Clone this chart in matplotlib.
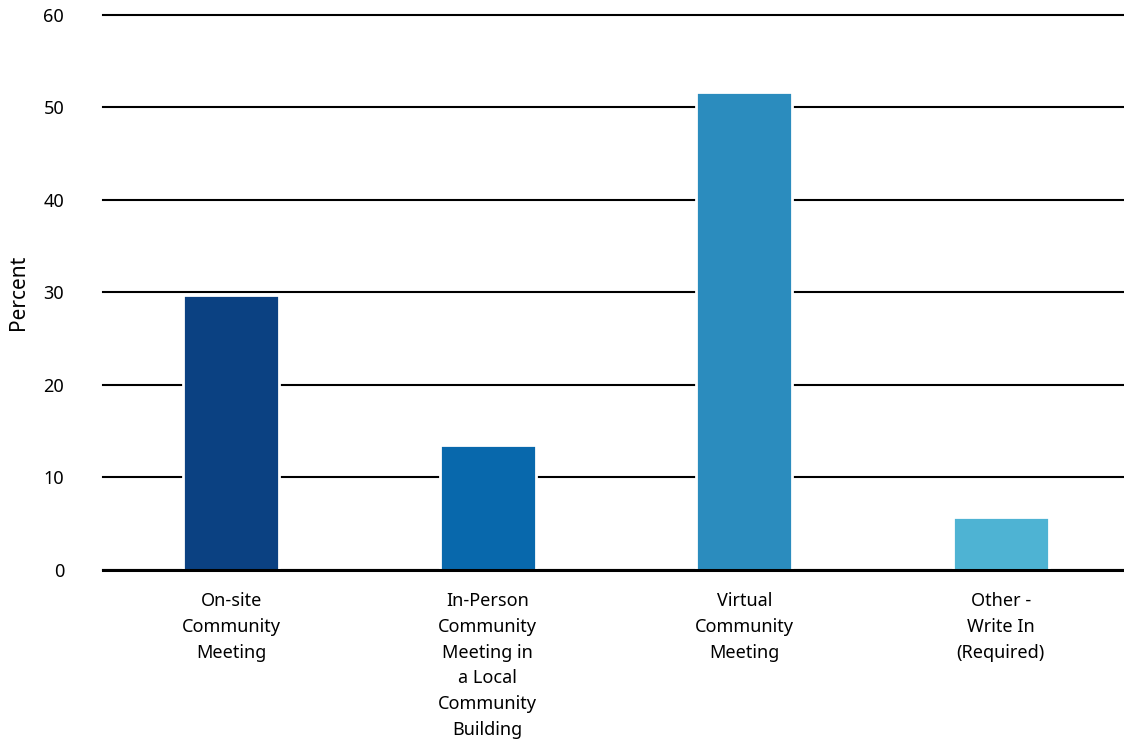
import numpy as np
import matplotlib.pyplot as plt

# Dados
categorias = ['On-site\nCommunity\nMeeting',
              'In-Person\nCommunity\nMeeting in\na Local\nCommunity\nBuilding',
              'Virtual\nCommunity\nMeeting',
              'Other -\nWrite In\n(Required)']
percentuais = [29.7, 13.5, 51.7, 5.7]
cores = ['#0b4182', '#0868ac', '#2b8cbe', '#4eb3d3']

plt.rcParams['font.family'] = ['Noto Sans', 'DejaVu Sans']

fig = plt.figure(figsize=(11.24, 7.47), dpi=100)
ax = fig.add_axes([0.0916, 0.237, 0.9084, 0.743])

x = np.arange(len(categorias))
ax.bar(x, percentuais, width=0.375, color=cores, edgecolor='white', linewidth=2, zorder=3)

ax.set_ylim(0, 60)
ax.set_xlim(-0.5, 3.48)
ax.set_yticks(np.arange(0, 61, 10))
ax.yaxis.grid(True, color='black', linewidth=1.5, zorder=0)
ax.set_axisbelow(True)
for linha in ax.get_ygridlines():
    linha.set_clip_on(False)
ax.axhline(0, color='black', linewidth=2.2, zorder=4, clip_on=False)

for s in ax.spines.values():
    s.set_visible(False)

ax.set_xticks(x)
ax.set_xticklabels(categorias, fontsize=13, linespacing=1.55)
ax.tick_params(axis='both', length=0, labelsize=13)
ax.tick_params(axis='y', pad=28)
ax.tick_params(axis='x', pad=16)
ax.set_ylabel('Percent', fontsize=15)
ax.yaxis.set_label_coords(-0.072, 0.5)

plt.savefig('out.png', dpi=100)
